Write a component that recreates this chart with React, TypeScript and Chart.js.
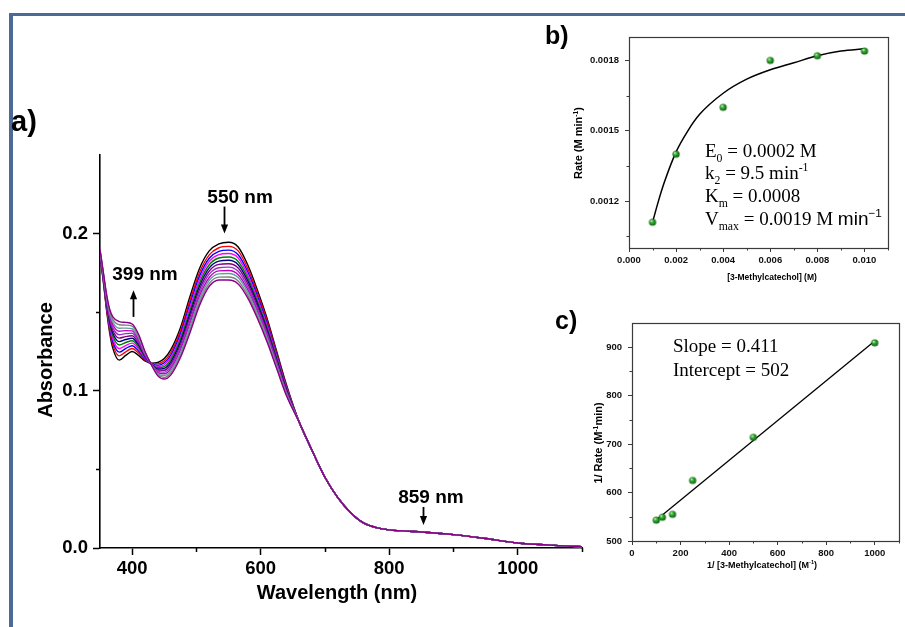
import { useEffect, useRef } from "react";
import { Chart, registerables } from "chart.js";

Chart.register(...registerables);

// ---------- a) UV-Vis spectra recorded during the reaction ----------
const WAVELENGTH_HEAD = [350, 355, 360, 365, 370, 380, 390, 400, 410, 420, 430, 440, 450, 460, 475, 490, 505, 520, 535, 550, 565, 580, 595, 610, 625, 640];
const WAVELENGTH_TAIL = [660, 680, 700, 720, 740, 760, 780, 800, 850, 900, 950, 1000, 1050, 1100];
// all scans coincide above ~650 nm
const ABSORBANCE_TAIL = [0.080, 0.062, 0.045, 0.032, 0.0225, 0.016, 0.013, 0.0115, 0.0102, 0.0085, 0.006, 0.0032, 0.0018, 0.0008];

const scan01 = [0.186, 0.170, 0.152, 0.137, 0.127, 0.1195, 0.1225, 0.125, 0.1225, 0.119, 0.1175, 0.118, 0.1205, 0.126, 0.140, 0.160, 0.178, 0.189, 0.1935, 0.1945, 0.1915, 0.180, 0.164, 0.146, 0.125, 0.104];
const scan02 = [0.1864, 0.1707, 0.1531, 0.1387, 0.1292, 0.1222, 0.1248, 0.1269, 0.124, 0.1197, 0.1174, 0.1171, 0.1191, 0.1242, 0.1379, 0.1575, 0.1754, 0.1865, 0.191, 0.1919, 0.189, 0.1777, 0.162, 0.1444, 0.1238, 0.1032];
const scan03 = [0.1868, 0.1713, 0.1541, 0.1402, 0.1312, 0.1246, 0.1269, 0.1287, 0.1253, 0.1203, 0.1173, 0.1162, 0.1178, 0.1226, 0.136, 0.1552, 0.1731, 0.1843, 0.1887, 0.1895, 0.1866, 0.1756, 0.1602, 0.1429, 0.1227, 0.1025];
const scan04 = [0.1872, 0.1718, 0.155, 0.1415, 0.133, 0.1269, 0.1288, 0.1303, 0.1266, 0.1208, 0.1172, 0.1155, 0.1166, 0.1212, 0.1343, 0.1531, 0.171, 0.1823, 0.1866, 0.1873, 0.1845, 0.1737, 0.1586, 0.1415, 0.1217, 0.1019];
const scan05 = [0.1876, 0.1723, 0.1559, 0.1429, 0.1348, 0.1291, 0.1307, 0.1318, 0.1278, 0.1213, 0.1171, 0.1147, 0.1154, 0.1198, 0.1326, 0.151, 0.1688, 0.1802, 0.1845, 0.1851, 0.1823, 0.1718, 0.157, 0.1402, 0.1207, 0.1013];
const scan06 = [0.1879, 0.1729, 0.1568, 0.1442, 0.1366, 0.1313, 0.1326, 0.1334, 0.129, 0.1219, 0.117, 0.1139, 0.1143, 0.1183, 0.1309, 0.149, 0.1667, 0.1782, 0.1825, 0.183, 0.1802, 0.1699, 0.1554, 0.1388, 0.1197, 0.1006];
const scan07 = [0.1883, 0.1734, 0.1577, 0.1456, 0.1384, 0.1335, 0.1345, 0.135, 0.1302, 0.1224, 0.1169, 0.1132, 0.1131, 0.1169, 0.1292, 0.1469, 0.1646, 0.1762, 0.1804, 0.1808, 0.1781, 0.168, 0.1537, 0.1375, 0.1187, 0.100];
const scan08 = [0.1886, 0.174, 0.1586, 0.1469, 0.1402, 0.1357, 0.1364, 0.1366, 0.1314, 0.123, 0.1168, 0.1124, 0.1119, 0.1154, 0.1275, 0.1448, 0.1625, 0.1742, 0.1783, 0.1787, 0.176, 0.1661, 0.1521, 0.1361, 0.1177, 0.0994];
const scan09 = [0.189, 0.1745, 0.1595, 0.1483, 0.142, 0.1379, 0.1383, 0.1381, 0.1326, 0.1235, 0.1168, 0.1116, 0.1108, 0.114, 0.1258, 0.1428, 0.1604, 0.1721, 0.1763, 0.1765, 0.1739, 0.1643, 0.1505, 0.1348, 0.1168, 0.0988];
const scan10 = [0.1893, 0.175, 0.1603, 0.1495, 0.1436, 0.1398, 0.1399, 0.1395, 0.1337, 0.124, 0.1167, 0.1109, 0.1097, 0.1127, 0.1242, 0.1409, 0.1585, 0.1703, 0.1744, 0.1746, 0.172, 0.1626, 0.1491, 0.1336, 0.1159, 0.0982];
const scan11 = [0.1897, 0.1755, 0.1612, 0.1508, 0.1454, 0.142, 0.1418, 0.1411, 0.1349, 0.1245, 0.1166, 0.1102, 0.1085, 0.1113, 0.1225, 0.1388, 0.1564, 0.1683, 0.1723, 0.1724, 0.1699, 0.1607, 0.1474, 0.1322, 0.1149, 0.0976];
const scan12 = [0.190, 0.176, 0.162, 0.152, 0.147, 0.144, 0.1435, 0.1425, 0.136, 0.125, 0.1165, 0.1095, 0.1075, 0.110, 0.121, 0.137, 0.1545, 0.1665, 0.1705, 0.1705, 0.168, 0.159, 0.146, 0.131, 0.114, 0.097];

const SCANS = [scan01, scan02, scan03, scan04, scan05, scan06, scan07, scan08, scan09, scan10, scan11, scan12];
const SCAN_COLORS = ["#000000", "#ff0000", "#0000ff", "#ff00ff", "#008000", "#000080", "#800080", "#9932cc", "#c000c0", "#5f9ea0", "#808080", "#8b008b"];

const WL_MAJOR = [400, 600, 800, 1000];
const WL_MINOR = [500, 700, 900, 1100];
const ABS_MAJOR = [0, 0.1, 0.2];
const ABS_MINOR = [0.05, 0.15];

// ---------- b) Michaelis-Menten plot ----------
const CONC = [0.001, 0.002, 0.004, 0.006, 0.008, 0.010];
const RATE = [0.00111, 0.0014, 0.0016, 0.0018, 0.00182, 0.00184];
const FIT_CONC = [0.001, 0.00125, 0.0015, 0.002, 0.0025, 0.003, 0.004, 0.005, 0.006, 0.007, 0.008, 0.009, 0.010];
const FIT_RATE = [0.00111, 0.0012, 0.00128, 0.00141, 0.0015, 0.00157, 0.00166, 0.00172, 0.00176, 0.00179, 0.00182, 0.00184, 0.00185];
const CONC_MAJOR = [0, 0.002, 0.004, 0.006, 0.008, 0.010];
const CONC_MINOR = [0.001, 0.003, 0.005, 0.007, 0.009, 0.011];
const RATE_MAJOR = [0.0012, 0.0015, 0.0018];
const RATE_MINOR = [0.00105, 0.00135, 0.00165];

// ---------- c) Lineweaver-Burk plot ----------
const INV_CONC = [100, 125, 167, 250, 500, 1000];
const INV_RATE = [543, 549, 555, 625, 714, 909];
const LB_SLOPE = 0.411;
const LB_INTERCEPT = 502;
const LB_RANGE = [100, 1000];
const INV_CONC_MAJOR = [0, 200, 400, 600, 800, 1000];
const INV_CONC_MINOR = [100, 300, 500, 700, 900, 1100];
const INV_RATE_MAJOR = [500, 600, 700, 800, 900];
const INV_RATE_MINOR = [550, 650, 750, 850];

const SANS = "'Liberation Sans', Arial, Helvetica, sans-serif";
const SERIF = "'Liberation Serif', 'Times New Roman', serif";

type Seg = { t: string; script?: "sub" | "sup"; family?: string; weight?: string };

function drawRich(ctx: any, segs: Seg[], x: number, y: number, size: number, family: string, weight: string, align: "left" | "center" = "left", angle = 0) {
  ctx.save();
  ctx.translate(x, y);
  ctx.rotate(angle);
  const fontFor = (s: Seg) => `${s.weight ?? weight} ${s.script ? size * 0.62 : size}px ${s.family ?? family}`;
  let total = 0;
  const widths = segs.map((s) => {
    ctx.font = fontFor(s);
    const w = ctx.measureText(s.t).width;
    total += w;
    return w;
  });
  let cx = align === "center" ? -total / 2 : 0;
  ctx.textBaseline = "alphabetic";
  ctx.textAlign = "left";
  ctx.fillStyle = "#000";
  segs.forEach((s, i) => {
    ctx.font = fontFor(s);
    const dy = s.script === "sub" ? size * 0.25 : s.script === "sup" ? -size * 0.4 : 0;
    ctx.fillText(s.t, cx, dy);
    cx += widths[i];
  });
  ctx.restore();
}

function minorTicks(chart: any, axis: string, values: number[], len: number, color: string, width: number) {
  const s = chart.scales[axis];
  const a = chart.chartArea;
  const ctx = chart.ctx;
  ctx.save();
  ctx.strokeStyle = color;
  ctx.lineWidth = width;
  ctx.beginPath();
  for (const v of values) {
    if (s.isHorizontal()) {
      const x = Math.round(s.getPixelForValue(v)) + 0.5;
      ctx.moveTo(x, a.bottom);
      ctx.lineTo(x, a.bottom + len);
    } else {
      const y = Math.round(s.getPixelForValue(v)) + 0.5;
      ctx.moveTo(a.left, y);
      ctx.lineTo(a.left - len, y);
    }
  }
  ctx.stroke();
  ctx.restore();
}

function vArrow(ctx: any, x: number, y0: number, y1: number) {
  const dir = Math.sign(y1 - y0);
  const head = 9;
  const half = 3.6;
  ctx.save();
  ctx.strokeStyle = "#000";
  ctx.fillStyle = "#000";
  ctx.lineWidth = 1.8;
  ctx.beginPath();
  ctx.moveTo(x, y0);
  ctx.lineTo(x, y1 - dir * head * 0.7);
  ctx.stroke();
  ctx.beginPath();
  ctx.moveTo(x, y1);
  ctx.lineTo(x - half, y1 - dir * head);
  ctx.lineTo(x + half, y1 - dir * head);
  ctx.closePath();
  ctx.fill();
  ctx.restore();
}

function makeSphere(r: number) {
  const c = document.createElement("canvas");
  const s = Math.ceil(r * 2 + 2);
  c.width = s;
  c.height = s;
  const g = c.getContext("2d") as CanvasRenderingContext2D;
  const cx = s / 2;
  const cy = s / 2;
  const grad = g.createRadialGradient(cx - r * 0.35, cy - r * 0.4, r * 0.1, cx, cy, r);
  grad.addColorStop(0, "#c8f5b8");
  grad.addColorStop(0.35, "#39b139");
  grad.addColorStop(1, "#0a5a0a");
  g.fillStyle = grad;
  g.beginPath();
  g.arc(cx, cy, r, 0, Math.PI * 2);
  g.fill();
  return c;
}

function fixedTicks(values: number[]) {
  return (s: any) => {
    s.ticks = values.map((value) => ({ value }));
  };
}

// annotation marks on the spectra (data coordinates)
const SPECTRA_NOTES = [
  { text: "550 nm", x: 568, y: 0.2197, arrowX: 543, from: 0.2172, to: 0.2 },
  { text: "399 nm", x: 420, y: 0.1707, arrowX: 401, from: 0.147, to: 0.164 },
  { text: "859 nm", x: 865, y: 0.0287, arrowX: 853, from: 0.0261, to: 0.0146 },
];

function baseOptions(padTop: number, padRight: number) {
  return {
    responsive: false,
    animation: false as const,
    devicePixelRatio: 1,
    events: [] as any[],
    layout: { padding: { top: padTop, right: padRight, left: 0, bottom: 0 } },
    plugins: { legend: { display: false }, tooltip: { enabled: false }, title: { display: false } },
  };
}

function spectraConfig(): any {
  const datasets = SCANS.map((head, i) => ({
    data: [
      ...WAVELENGTH_HEAD.map((x, k) => ({ x, y: head[k] })),
      ...WAVELENGTH_TAIL.map((x, k) => ({ x, y: ABSORBANCE_TAIL[k] })),
    ],
    borderColor: SCAN_COLORS[i],
    borderWidth: 1.4,
    pointRadius: 0,
    fill: false,
    cubicInterpolationMode: "monotone",
    order: SCANS.length - i,
  }));
  const tickFont = { family: SANS, size: 18.5, weight: "bold" };
  return {
    type: "line",
    data: { datasets },
    options: {
      ...baseOptions(60, 18),
      scales: {
        x: {
          type: "linear",
          min: 350,
          max: 1100,
          afterBuildTicks: fixedTicks(WL_MAJOR),
          afterFit: (s: any) => { s.height = 72; },
          grid: { drawOnChartArea: false, tickLength: 7, tickWidth: 1.5, tickColor: "#000" },
          border: { display: true, color: "#000", width: 1.6 },
          ticks: { color: "#000", font: tickFont, padding: 3, maxRotation: 0, autoSkip: false, callback: (v: any) => String(v) },
        },
        y: {
          type: "linear",
          min: 0,
          max: 0.25,
          afterBuildTicks: fixedTicks(ABS_MAJOR),
          afterFit: (s: any) => { s.width = 100; },
          grid: { drawOnChartArea: false, tickLength: 7, tickWidth: 1.5, tickColor: "#000" },
          border: { display: true, color: "#000", width: 1.6 },
          ticks: { color: "#000", font: tickFont, padding: 5, autoSkip: false, callback: (v: any) => Number(v).toFixed(1) },
        },
      },
    },
    plugins: [
      {
        id: "spectraDecor",
        afterDraw(chart: any) {
          const ctx = chart.ctx;
          const xs = chart.scales.x;
          const ys = chart.scales.y;
          minorTicks(chart, "x", WL_MINOR, 4, "#000", 1.5);
          minorTicks(chart, "y", ABS_MINOR, 4, "#000", 1.5);
          for (const n of SPECTRA_NOTES) {
            drawRich(ctx, [{ t: n.text }], xs.getPixelForValue(n.x), ys.getPixelForValue(n.y), 19, SANS, "bold", "center");
            vArrow(ctx, Math.round(xs.getPixelForValue(n.arrowX)) + 0.5, ys.getPixelForValue(n.from), ys.getPixelForValue(n.to));
          }
          drawRich(ctx, [{ t: "a)" }], 11, 36, 29, SANS, "bold");
          drawRich(ctx, [{ t: "Absorbance" }], 52, 265, 20, SANS, "bold", "center", -Math.PI / 2);
          drawRich(ctx, [{ t: "Wavelength (nm)" }], 337, 504, 20, SANS, "bold", "center");
        },
      },
    ],
  };
}

function boxPlugin(id: string, draw: (chart: any) => void) {
  return {
    id,
    afterDraw(chart: any) {
      const a = chart.chartArea;
      const ctx = chart.ctx;
      ctx.save();
      ctx.strokeStyle = "#3a3a3a";
      ctx.lineWidth = 1.2;
      ctx.strokeRect(Math.round(a.left) + 0.5, Math.round(a.top) + 0.5, Math.round(a.right - a.left), Math.round(a.bottom - a.top));
      ctx.restore();
      draw(chart);
    },
  };
}

function smallAxis(min: number, max: number, majors: number[], size: number, pad: number, fmt: (v: number) => string, isX: boolean): any {
  return {
    type: "linear",
    min,
    max,
    afterBuildTicks: fixedTicks(majors),
    afterFit: (s: any) => {
      if (isX) s.height = size;
      else s.width = size;
    },
    grid: { drawOnChartArea: false, tickLength: 4, tickWidth: 1, tickColor: "#3a3a3a" },
    border: { display: false },
    ticks: { color: "#111", font: { family: SANS, size: 9.5, weight: "bold" }, padding: pad, maxRotation: 0, autoSkip: false, callback: (v: any) => fmt(Number(v)) },
  };
}

function michaelisConfig(sphere: HTMLCanvasElement): any {
  return {
    type: "scatter",
    data: {
      datasets: [
        {
          data: CONC.map((x, i) => ({ x, y: RATE[i] })),
          pointStyle: sphere,
          pointRadius: 4,
          showLine: false,
          order: 0,
        },
        {
          data: FIT_CONC.map((x, i) => ({ x, y: FIT_RATE[i] })),
          showLine: true,
          borderColor: "#000",
          borderWidth: 1.5,
          pointRadius: 0,
          cubicInterpolationMode: "monotone",
          order: 1,
        },
      ],
    },
    options: {
      ...baseOptions(27, 17),
      scales: {
        x: smallAxis(0, 0.011, CONC_MAJOR, 52, 3, (v) => v.toFixed(3), true),
        y: smallAxis(0.001, 0.0019, RATE_MAJOR, 89, 6, (v) => v.toFixed(4), false),
      },
    },
    plugins: [
      boxPlugin("mmDecor", (chart: any) => {
        const ctx = chart.ctx;
        minorTicks(chart, "x", CONC_MINOR, 2.5, "#3a3a3a", 1);
        minorTicks(chart, "y", RATE_MINOR, 2.5, "#3a3a3a", 1);
        drawRich(ctx, [{ t: "b)" }], 5, 34, 25, SANS, "bold");
        drawRich(ctx, [{ t: "Rate (M min" }, { t: "-1", script: "sup" }, { t: ")" }], 42, 133, 11, SANS, "bold", "center", -Math.PI / 2);
        drawRich(ctx, [{ t: "[3-Methylcatechol] (M)" }], 232, 270, 8.5, SANS, "bold", "center");
        const L = 165;
        drawRich(ctx, [{ t: "E" }, { t: "0", script: "sub" }, { t: " = 0.0002 M" }], L, 147, 19, SERIF, "normal");
        drawRich(ctx, [{ t: "k" }, { t: "2", script: "sub" }, { t: " = 9.5 min" }, { t: "-1", script: "sup" }], L, 169, 19, SERIF, "normal");
        drawRich(ctx, [{ t: "K" }, { t: "m", script: "sub" }, { t: " = 0.0008" }], L, 192, 19, SERIF, "normal");
        drawRich(
          ctx,
          [{ t: "V" }, { t: "max", script: "sub" }, { t: " = 0.0019 M " }, { t: "min", family: SANS }, { t: "\u22121", script: "sup", family: SANS }],
          L, 215, 19, SERIF, "normal",
        );
      }),
    ],
  };
}

function lineweaverConfig(sphere: HTMLCanvasElement): any {
  return {
    type: "scatter",
    data: {
      datasets: [
        {
          data: INV_CONC.map((x, i) => ({ x, y: INV_RATE[i] })),
          pointStyle: sphere,
          pointRadius: 4,
          showLine: false,
          order: 0,
        },
        {
          data: LB_RANGE.map((x) => ({ x, y: LB_INTERCEPT + LB_SLOPE * x })),
          showLine: true,
          borderColor: "#000",
          borderWidth: 1.3,
          pointRadius: 0,
          order: 1,
        },
      ],
    },
    options: {
      ...baseOptions(23, 6),
      scales: {
        x: smallAxis(0, 1100, INV_CONC_MAJOR, 49, 3, (v) => String(Math.round(v)), true),
        y: smallAxis(500, 950, INV_RATE_MAJOR, 92, 6, (v) => String(Math.round(v)), false),
      },
    },
    plugins: [
      boxPlugin("lbDecor", (chart: any) => {
        const ctx = chart.ctx;
        minorTicks(chart, "x", INV_CONC_MINOR, 2.5, "#3a3a3a", 1);
        minorTicks(chart, "y", INV_RATE_MINOR, 2.5, "#3a3a3a", 1);
        drawRich(ctx, [{ t: "c)" }], 15, 29, 25, SANS, "bold");
        drawRich(ctx, [{ t: "1/ Rate (M" }, { t: "-1", script: "sup" }, { t: "min)" }], 62, 143, 11, SANS, "bold", "center", -Math.PI / 2);
        drawRich(ctx, [{ t: "1/ [3-Methylcatechol] (M" }, { t: "-1", script: "sup" }, { t: ")" }], 222, 268, 9, SANS, "bold", "center");
        drawRich(ctx, [{ t: "Slope = 0.411" }], 133, 52, 19, SERIF, "normal");
        drawRich(ctx, [{ t: "Intercept = 502" }], 133, 76, 19, SERIF, "normal");
      }),
    ],
  };
}

export default function App() {
  const aRef = useRef<HTMLCanvasElement>(null);
  const bRef = useRef<HTMLCanvasElement>(null);
  const cRef = useRef<HTMLCanvasElement>(null);

  useEffect(() => {
    const sphere = makeSphere(3.6);
    const charts = [
      new Chart(aRef.current as HTMLCanvasElement, spectraConfig()),
      new Chart(bRef.current as HTMLCanvasElement, michaelisConfig(sphere)),
      new Chart(cRef.current as HTMLCanvasElement, lineweaverConfig(sphere)),
    ];
    return () => charts.forEach((c) => c.destroy());
  }, []);

  const abs = (left: number, top: number): any => ({ position: "absolute", left, top });

  return (
    <div style={{ position: "absolute", left: 0, top: 0, width: 905, height: 627, overflow: "hidden", background: "#fff" }}>
      <div
        style={{
          position: "absolute",
          left: 9,
          top: 13,
          width: 1000,
          height: 1000,
          borderTop: "3px solid #4c6a96",
          borderLeft: "4px solid #4c6a96",
          boxSizing: "border-box",
        }}
      />
      <canvas ref={aRef} width={600} height={525} style={abs(0, 95)} />
      <canvas ref={bRef} width={365} height={290} style={abs(540, 10)} />
      <canvas ref={cRef} width={365} height={290} style={abs(540, 300)} />
    </div>
  );
}
